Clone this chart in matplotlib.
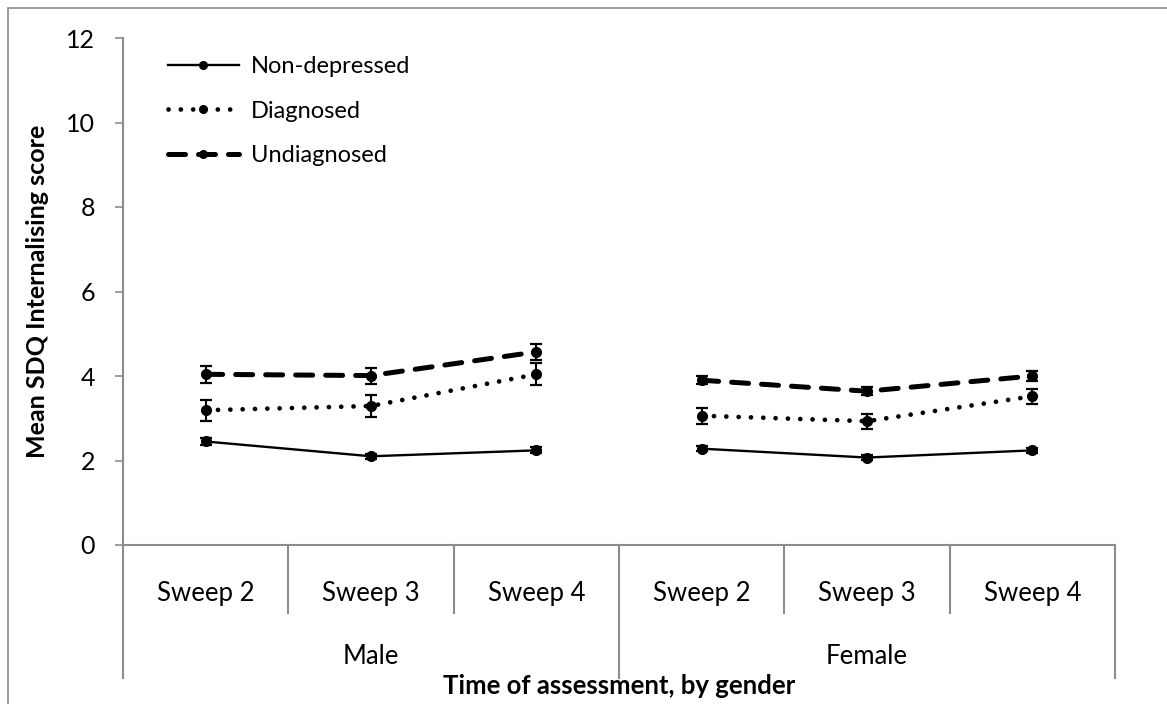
import matplotlib
matplotlib.use("Agg")
import matplotlib.pyplot as plt
from matplotlib.lines import Line2D
from matplotlib.patches import Rectangle

plt.rcParams['font.family'] = ['Lato', 'DejaVu Sans']

# ---- data ----
genders = ["Male", "Female"]
sweeps = ["Sweep 2", "Sweep 3", "Sweep 4"]
series_names = ["Non-depressed", "Diagnosed", "Undiagnosed"]
nondep = [2.45, 2.10, 2.24, 2.28, 2.07, 2.24]
nondep_err = [0.08, 0.06, 0.07, 0.06, 0.05, 0.06]
diag = [3.19, 3.29, 4.04, 3.06, 2.93, 3.52]
diag_err = [0.25, 0.25, 0.26, 0.19, 0.18, 0.18]
undiag = [4.04, 4.01, 4.57, 3.90, 3.64, 4.00]
undiag_err = [0.20, 0.19, 0.19, 0.10, 0.10, 0.12]
yticks = [0, 2, 4, 6, 8, 10, 12]

W, H = 1167, 704
fig = plt.figure(figsize=(W / 100, H / 100), dpi=100)
ax = fig.add_axes([123 / W, 1 - 545 / H, (1115 - 123) / W, (545 - 38) / H])

gray = '#8c8c8c'
styles = [
    dict(ls='-', lw=1.7),
    dict(ls=(0, (0.01, 2.6)), lw=3.4, dash_capstyle='round'),
    dict(ls=(0, (3.4, 2.6)), lw=3.6, dash_capstyle='round'),
]
values = [nondep, diag, undiag]
errs = [nondep_err, diag_err, undiag_err]
n = len(sweeps)
for vals, err, st in zip(values, errs, styles):
    for g in range(len(genders)):
        xs = [g * n + i + 0.5 for i in range(n)]
        ys = vals[g * n:(g + 1) * n]
        es = err[g * n:(g + 1) * n]
        ax.plot(xs, ys, color='black', **st, zorder=2)
        ax.errorbar(xs, ys, yerr=es, fmt='o', color='black', ms=7,
                    elinewidth=1.5, capsize=4.5, capthick=1.6, zorder=3)

ax.set_xlim(0, len(genders) * n)
ax.set_ylim(0, 12)
ax.set_yticks(yticks)
ax.set_yticklabels([str(t) for t in yticks], fontsize=18)
ax.tick_params(axis='y', direction='out', length=6, width=1.2, color=gray, pad=14)
ax.set_xticks([])
for s in ['top', 'right']:
    ax.spines[s].set_visible(False)
for s in ['left', 'bottom']:
    ax.spines[s].set_color(gray)
    ax.spines[s].set_linewidth(1.5)

trans = ax.get_xaxis_transform()
axh = 545 - 38
y_inner = -(613 - 545) / axh
y_outer = -(678 - 545) / axh
y_sweep = -(594 - 545) / axh
y_group = -(657 - 545) / axh
for g, gname in enumerate(genders):
    for i, sname in enumerate(sweeps):
        ax.text(g * n + i + 0.5, y_sweep, sname, transform=trans, ha='center',
                va='center', fontsize=18.5)
        if i > 0:
            ax.plot([g * n + i] * 2, [0, y_inner], transform=trans, color=gray,
                    lw=1.5, clip_on=False)
    ax.text(g * n + n / 2, y_group, gname, transform=trans, ha='center',
            va='center', fontsize=18.5)
for k in range(len(genders) + 1):
    ax.plot([k * n] * 2, [0, y_outer], transform=trans, color=gray, lw=1.5,
            clip_on=False)

fig.text(38 / W, 1 - 291 / H, "Mean SDQ Internalising score", rotation=90,
         ha='center', va='center', fontsize=18, fontweight='bold')
fig.text((123 + 1115) / 2 / W, 1 - 686 / H, "Time of assessment, by gender",
         ha='center', va='center', fontsize=18.5, fontweight='bold')

handles = [Line2D([], [], color='black', marker='o', ms=5.5, **st) for st in styles]
fig.legend(handles, series_names, loc='upper left',
           bbox_to_anchor=(168 / W, 1 - 56 / H), frameon=False, fontsize=17,
           handlelength=3.0, handletextpad=0.5, labelspacing=1.0,
           borderpad=0, borderaxespad=0)

fig.patches.append(Rectangle((8 / W, -0.2), 1.2, 1.2 - 8 / H, fill=False,
                             edgecolor=gray, lw=1.2, transform=fig.transFigure))

fig.savefig("out.png", dpi=100)
